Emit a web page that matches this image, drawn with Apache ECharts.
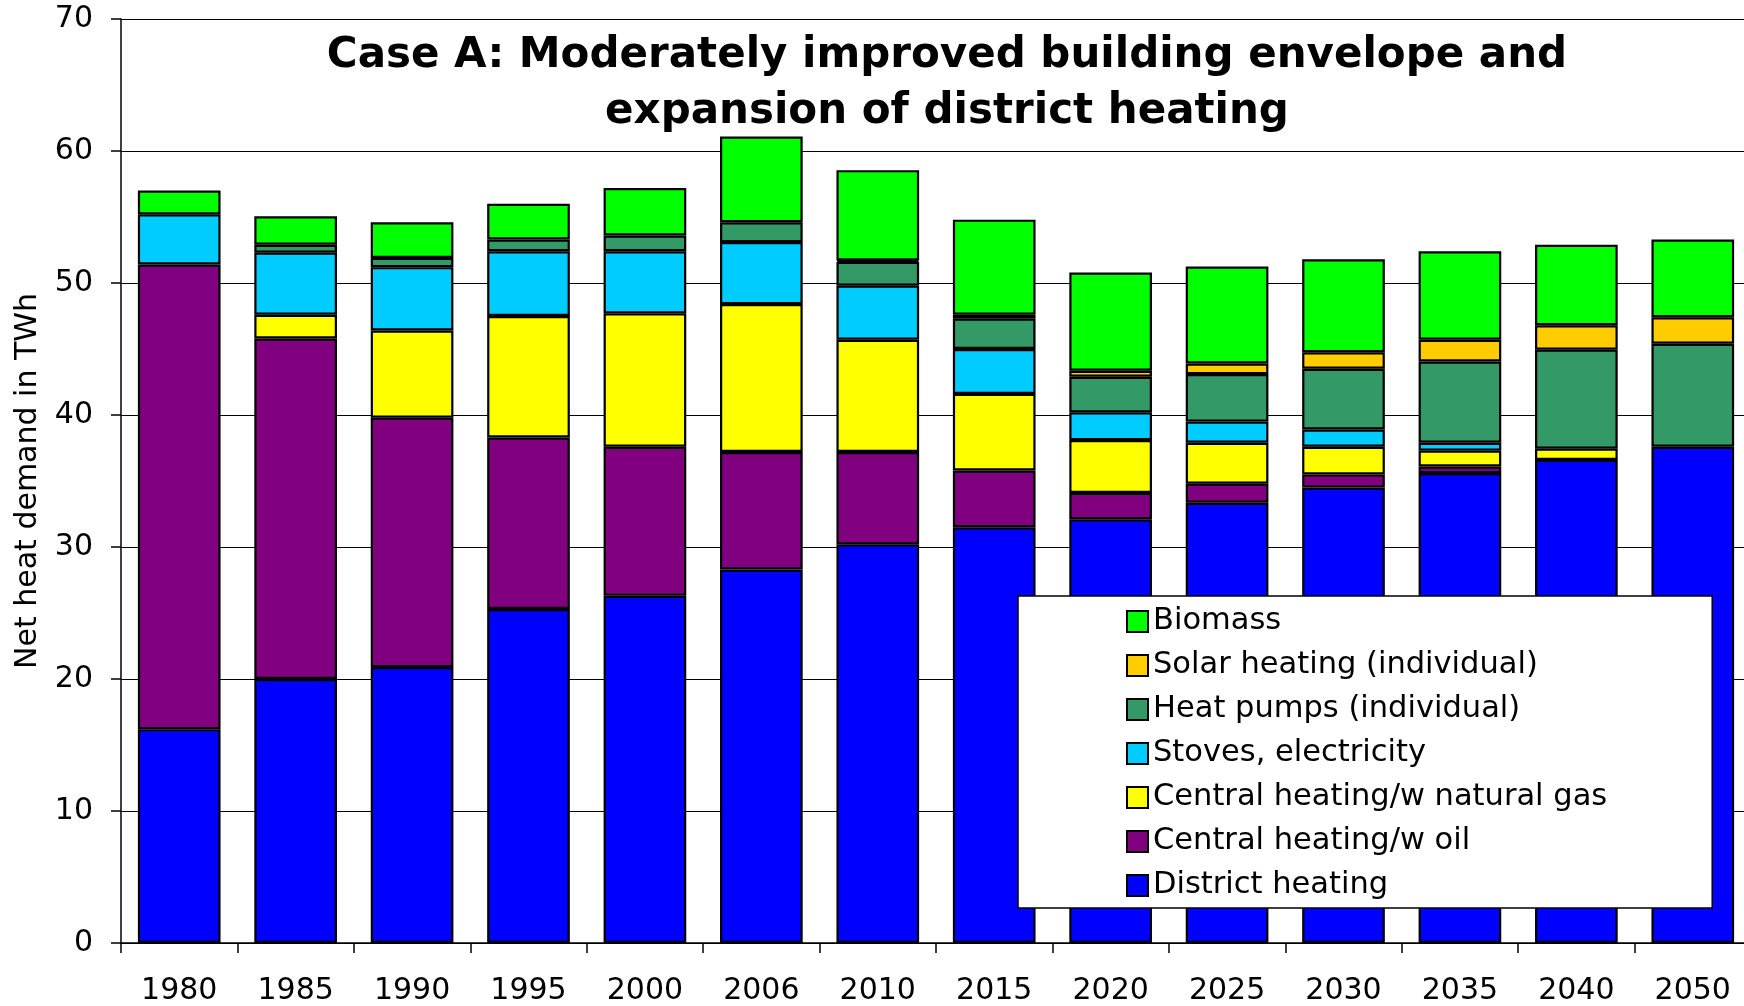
<!DOCTYPE html>
<html>
<head>
<meta charset="utf-8">
<script src="https://cdn.jsdelivr.net/npm/echarts@6/dist/echarts.min.js"></script>
<style>
html, body { margin: 0; padding: 0; background: #fff; overflow: hidden; }
#app { width: 1760px; height: 1006px; }
</style>
</head>
<body>
<div id="app"></div>
<script>
var years = ['1980', '1985', '1990', '1995', '2000', '2006', '2010', '2015', '2020', '2025', '2030', '2035', '2040', '2050'];
var districtHeating = [16.2, 20.0, 20.9, 25.3, 26.3, 28.3, 30.2, 31.5, 32.1, 33.35, 34.5, 35.6, 36.6, 37.6];
var oilHeating = [35.2, 25.8, 18.9, 13.0, 11.3, 8.9, 7.0, 4.3, 2.0, 1.45, 1.0, 0.5, 0, 0];
var gasHeating = [0, 1.8, 6.6, 9.2, 10.1, 11.2, 8.5, 5.8, 4.0, 3.1, 2.1, 1.2, 0.85, 0];
var stoves = [3.8, 4.7, 4.8, 4.9, 4.7, 4.7, 4.1, 3.4, 2.1, 1.6, 1.3, 0.6, 0, 0];
var heatPumps = [0, 0.6, 0.7, 0.9, 1.2, 1.5, 1.8, 2.3, 2.7, 3.6, 4.6, 6.15, 7.5, 7.8];
var solar = [0, 0, 0, 0, 0, 0, 0.1, 0.3, 0.45, 0.8, 1.25, 1.65, 1.85, 2.0];
var biomass = [1.8, 2.15, 2.7, 2.7, 3.6, 6.5, 6.85, 7.2, 7.45, 7.35, 7.05, 6.7, 6.1, 5.9];
var yTicks = [0, 10, 20, 30, 40, 50, 60, 70];

window.onload = function() {
    // the plot in the original runs a little past the right edge, so the canvas is wider than the window
    var myChart = echarts.init(document.getElementById('app'));
    var font = 'DejaVu Sans, Verdana, sans-serif';

    function barSeries(name, data, color) {
        return {
            name: name,
            type: 'bar',
            stack: 'total',
            barCategoryGap: '29%',
            data: data.map(function(v) { return v === 0 ? '-' : v; }),
            itemStyle: {
                color: color,
                borderColor: '#000',
                borderWidth: 2.2
            }
        };
    }

    var option = {
        backgroundColor: '#fff',
        animation: false,
        title: {
            text: 'Case A: Moderately improved building envelope and\nexpansion of district heating',
            left: 947,
            top: 28,
            padding: 0,
            textAlign: 'center',
            textStyle: {
                fontFamily: font,
                fontSize: 42,
                fontWeight: 'bold',
                lineHeight: 56,
                color: '#000'
            }
        },
        legend: {
            orient: 'vertical',
            left: 1018,
            top: 596,
            data: ['Biomass', 'Solar heating (individual)', 'Heat pumps (individual)', 'Stoves, electricity',
                'Central heating/w natural gas', 'Central heating/w oil', 'District heating'],
            icon: 'rect',
            itemWidth: 21,
            itemHeight: 21,
            itemGap: 13,
            padding: [10, 105, 7, 108],
            backgroundColor: '#fff',
            borderColor: '#000',
            borderWidth: 1.5,
            textStyle: {
                fontFamily: font,
                fontSize: 30.5,
                color: '#000'
            }
        },
        grid: {
            left: 121,
            right: 9,
            top: 19,
            bottom: 62
        },
        xAxis: {
            type: 'category',
            data: years,
            axisLine: { lineStyle: { color: '#000', width: 1.5 } },
            axisTick: { show: true, length: 10, lineStyle: { color: '#000', width: 1.5 } },
            axisLabel: {
                margin: 33,
                fontFamily: font,
                fontSize: 30,
                color: '#000'
            }
        },
        yAxis: {
            type: 'value',
            min: yTicks[0],
            max: yTicks[yTicks.length - 1],
            interval: 10,
            name: 'Net heat demand in TWh',
            nameLocation: 'middle',
            nameGap: 78,
            nameTextStyle: {
                fontFamily: font,
                fontSize: 30,
                color: '#000'
            },
            axisLine: { show: true, lineStyle: { color: '#000', width: 1.5 } },
            axisTick: { show: true, length: 10, lineStyle: { color: '#000', width: 1.5 } },
            axisLabel: {
                margin: 28,
                fontFamily: font,
                fontSize: 30,
                color: '#000'
            },
            splitLine: { show: true, lineStyle: { color: '#000', width: 1.2 } }
        },
        series: [
            barSeries('District heating', districtHeating, '#0000ff'),
            barSeries('Central heating/w oil', oilHeating, '#800080'),
            barSeries('Central heating/w natural gas', gasHeating, '#ffff00'),
            barSeries('Stoves, electricity', stoves, '#00ccff'),
            barSeries('Heat pumps (individual)', heatPumps, '#339966'),
            barSeries('Solar heating (individual)', solar, '#ffcc00'),
            barSeries('Biomass', biomass, '#00ff00')
        ]
    };
    myChart.setOption(option);
};
</script>
</body>
</html>
